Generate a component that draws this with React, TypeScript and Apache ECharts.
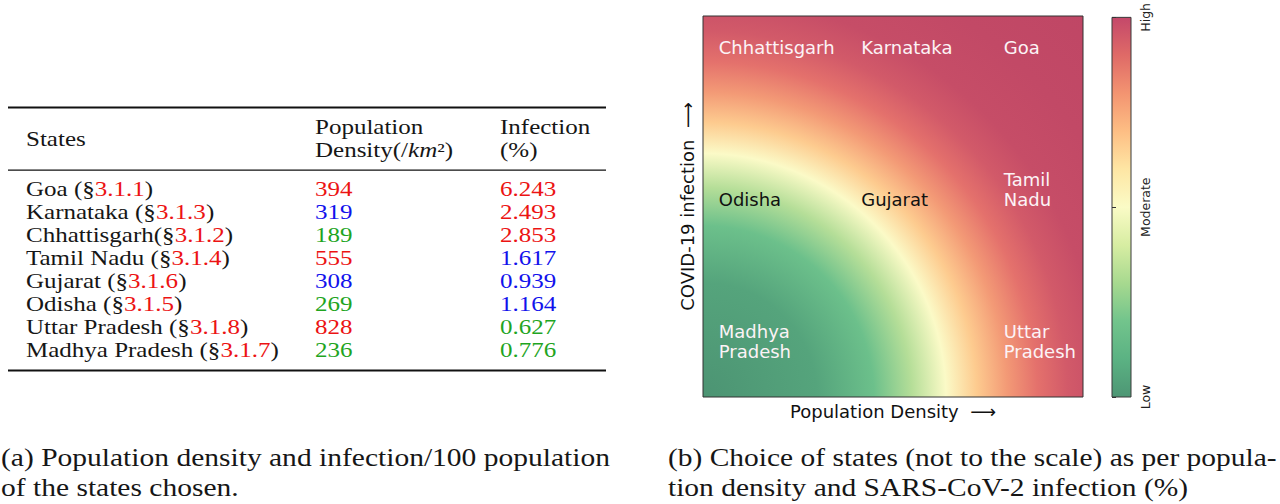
import React, { useEffect, useRef } from 'react';
import * as echarts from 'echarts';

// ---------------- data ----------------
const states = ['Goa', 'Karnataka', 'Chhattisgarh', 'Tamil Nadu', 'Gujarat', 'Odisha', 'Uttar Pradesh', 'Madhya Pradesh'];
const sections = ['3.1.1', '3.1.3', '3.1.2', '3.1.4', '3.1.6', '3.1.5', '3.1.8', '3.1.7'];
const refSeparators = [' ', ' ', '', ' ', ' ', ' ', ' ', ' '];
const populationDensity = [394, 319, 189, 555, 308, 269, 828, 236];
const infectionPercent = ['6.243', '2.493', '2.853', '1.617', '0.939', '1.164', '0.627', '0.776'];
// 0 = low, 1 = moderate, 2 = high
const densityLevel = [2, 1, 0, 2, 1, 0, 2, 0];
const infectionLevel = [2, 2, 2, 1, 1, 1, 0, 0];
const levelNames = ['Low', 'Moderate', 'High'];
const darkLabelStates = ['Odisha', 'Gujarat'];
const xAxisName = 'Population Density  \u27F6';
const yAxisName = 'COVID-19 infection  \u27F6';
const captionA = ['(a) Population density and infection/100 population', 'of the states chosen.'];
const captionB = ['(b) Choice of states (not to the scale) as per popula-', 'tion density and SARS-CoV-2 infection (%)'];

// ---------------- styles ----------------
const levelColors = ['#1fa51f', '#1212ec', '#ec1313'];
const refColor = '#ec1313';
const inkColor = '#161616';
const serif = 'Liberation Serif';
const sans = 'DejaVu Sans';
const cmapStops: [number, string][] = [
  [0, '#4d9674'], [0.1, '#5bb283'], [0.2, '#72c48c'], [0.3, '#a7d98f'], [0.4, '#d7eda2'],
  [0.5, '#fafbc6'], [0.6, '#fee6a4'], [0.7, '#fdbe84'], [0.8, '#f39471'], [0.9, '#df6a67'], [1, '#c4486a'],
];
// offsets are radius / 1.45 (radius relative to the plot width, from the lower-left corner)
const fieldStops: [number, string][] = [
  [0, '#4c9473'], [0.207, '#55a47c'], [0.31, '#6cc08b'], [0.379, '#b5de98'], [0.441, '#fbfac7'],
  [0.497, '#fdcb8f'], [0.552, '#f39a76'], [0.607, '#e4716c'], [0.662, '#d25a69'], [0.724, '#c64d67'],
  [0.83, '#c24966'], [1, '#bf4665'],
];

function measure(text: string, font: string): number {
  const ctx = document.createElement('canvas').getContext('2d');
  if (!ctx) return 1;
  ctx.font = font;
  return ctx.measureText(text).width;
}

export default function App() {
  const ref = useRef<HTMLDivElement>(null);
  useEffect(() => {
    if (!ref.current) return;
    const chart = echarts.init(ref.current, undefined, { renderer: 'svg' });

    // ---- table (left panel) ----
    const tFont = 20;
    const longest = 'Madhya Pradesh (\u00A7' + '3.1.7)';
    const tScale = 253 / measure(longest, `${tFont}px "${serif}"`);
    const colX = [26, 315, 500];
    const rowY0 = 189;
    const rowStep = 23.1;
    const tText = (x: number, y: number, text: string, fill: string, rich?: any) => ({
      type: 'text', x, y, scaleX: tScale, silent: true,
      style: { text, fill, fontSize: tFont, fontFamily: serif, align: 'left', verticalAlign: 'middle', rich },
    });
    const richBase = {
      n: { fill: inkColor, fontSize: tFont, fontFamily: serif },
      r: { fill: refColor, fontSize: tFont, fontFamily: serif },
      i: { fill: inkColor, fontSize: tFont, fontFamily: serif, fontStyle: 'italic' },
    };
    const graphics: any[] = [
      { type: 'rect', silent: true, shape: { x: 8, y: 106.5, width: 598, height: 2 }, style: { fill: '#111' } },
      { type: 'rect', silent: true, shape: { x: 8, y: 169.5, width: 598, height: 1.3 }, style: { fill: '#111' } },
      { type: 'rect', silent: true, shape: { x: 8, y: 369.5, width: 598, height: 2 }, style: { fill: '#111' } },
      tText(colX[0], 139, 'States', inkColor),
      tText(colX[1], 127, 'Population', inkColor),
      tText(colX[1], 150, '{n|Density(/}{i|km}{n|\u00B2)}', inkColor, richBase),
      tText(colX[2], 127, 'Infection', inkColor),
      tText(colX[2], 150, '(%)', inkColor),
    ];
    states.forEach((s, i) => {
      const y = rowY0 + i * rowStep;
      graphics.push(tText(colX[0], y, `{n|${s}${refSeparators[i]}(\u00A7}{r|${sections[i]}}{n|)}`, inkColor, richBase));
      graphics.push(tText(colX[1], y, String(populationDensity[i]), levelColors[densityLevel[i]]));
      graphics.push(tText(colX[2], y, infectionPercent[i], levelColors[infectionLevel[i]]));
    });

    // ---- captions ----
    const cFont = 25;
    const cf = `${cFont}px "${serif}"`;
    const capScaleA = 609 / measure(captionA[0], cf);
    const capScaleB = 609 / measure(captionB[0], cf);
    const capText = (x: number, y: number, text: string, s: number) => ({
      type: 'text', x, y, scaleX: s, silent: true,
      style: { text, fill: inkColor, fontSize: cFont, fontFamily: serif, align: 'left', verticalAlign: 'middle' },
    });
    graphics.push(capText(1, 458, captionA[0], capScaleA));
    graphics.push(capText(1, 488, captionA[1], capScaleA));
    graphics.push(capText(668, 458, captionB[0], capScaleB));
    graphics.push(capText(668, 488, captionB[1], capScaleB));

    // ---- heatmap panel ----
    const scatterData = states.map((s, i) => ({
      name: s,
      value: [densityLevel[i], infectionLevel[i]],
      label: { color: darkLabelStates.includes(s) ? '#111111' : '#fcf3f6' },
    }));

    const option: any = {
      animation: false,
      backgroundColor: '#ffffff',
      grid: [
        {
          left: 703, top: 16, width: 380, height: 381, show: true,
          borderColor: '#333', borderWidth: 1,
          backgroundColor: new echarts.graphic.RadialGradient(0, 1, 1.45,
            fieldStops.map(([offset, color]) => ({ offset, color }))),
        },
        {
          left: 1112, top: 16, width: 19, height: 381, show: true,
          borderColor: '#3a3a3a', borderWidth: 1,
          backgroundColor: new echarts.graphic.LinearGradient(0, 1, 0, 0,
            cmapStops.map(([offset, color]) => ({ offset, color }))),
        },
      ],
      xAxis: [
        {
          gridIndex: 0, type: 'value', min: -0.114, max: 2.553,
          name: xAxisName, nameLocation: 'middle', nameGap: 5,
          nameTextStyle: { fontSize: 18, color: '#111', fontFamily: sans, verticalAlign: 'top' },
          axisLine: { show: false }, axisTick: { show: false }, axisLabel: { show: false }, splitLine: { show: false },
        },
        { gridIndex: 1, type: 'value', min: 0, max: 1, show: false },
      ],
      yAxis: [
        {
          gridIndex: 0, type: 'value', min: -0.296, max: 2.211,
          name: yAxisName, nameLocation: 'middle', nameGap: 7, nameRotate: 90,
          nameTextStyle: { fontSize: 18, color: '#111', fontFamily: sans },
          axisLine: { show: false }, axisTick: { show: false }, axisLabel: { show: false }, splitLine: { show: false },
        },
        {
          gridIndex: 1, type: 'value', position: 'right', min: 0, max: 2, interval: 1,
          axisLine: { show: false },
          axisTick: { show: true, length: 4, lineStyle: { color: '#333', width: 1 } },
          axisLabel: {
            rotate: 90, margin: 8, fontSize: 12.5, color: '#222', fontFamily: sans,
            formatter: (v: number) => levelNames[Math.round(v)] ?? '',
          },
          splitLine: { show: false },
        },
      ],
      series: [
        {
          type: 'scatter', xAxisIndex: 0, yAxisIndex: 0,
          symbolSize: 1, itemStyle: { color: 'rgba(0,0,0,0)' }, silent: true,
          emphasis: { disabled: true },
          data: scatterData,
          label: {
            show: true, position: [0, 10], align: 'left', verticalAlign: 'bottom', opacity: 1,
            fontSize: 18, lineHeight: 20, fontFamily: sans,
            formatter: (p: any) => String(p.name).replace(' ', '\n'),
          },
        },
      ],
      graphic: graphics,
    };
    chart.setOption(option);
    return () => chart.dispose();
  }, []);
  return <div ref={ref} style={{ position: 'absolute', left: 0, top: 0, width: 1280, height: 504 }} />;
}
